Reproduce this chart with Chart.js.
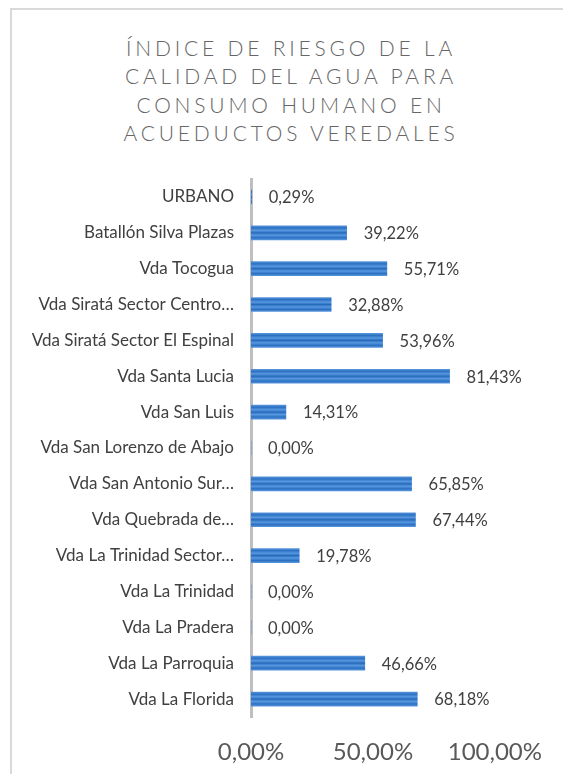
<!DOCTYPE html>
<html>
<head>
<meta charset="utf-8">
<script src="https://cdn.jsdelivr.net/npm/chart.js@4.4.1/dist/chart.umd.min.js"></script>
<style>
  html, body { margin: 0; padding: 0; background: #fff; }
  body { width: 563px; height: 774px; position: relative; overflow: hidden; }
  #frame {
    position: absolute; left: 10px; top: 8px; width: 560px; height: 800px;
    border-left: 2px solid #d9d9d9; border-top: 2px solid #d9d9d9;
  }
  #title {
    position: absolute; left: 12px; top: 34px; width: 558px;
    text-align: center; font-family: Lato, sans-serif; font-weight: 300; font-size: 21px;
    line-height: 28.4px; letter-spacing: 3.8px; color: #666666;
  }
  #wrap { position: absolute; left: 0; top: 0; width: 563px; height: 774px; }
</style>
</head>
<body>
<div id="frame"></div>
<div id="title">ÍNDICE DE RIESGO DE LA<br>CALIDAD DEL AGUA PARA<br>CONSUMO HUMANO EN<br>ACUEDUCTOS VEREDALES</div>
<div id="wrap"><canvas id="riesgoChart"></canvas></div>
<script>
// categorías (de arriba hacia abajo)
const veredas = [
    'URBANO',
    'Batallón Silva Plazas',
    'Vda Tocogua',
    'Vda Siratá Sector Centro…',
    'Vda Siratá Sector El Espinal',
    'Vda Santa Lucia',
    'Vda San Luis',
    'Vda San Lorenzo de Abajo',
    'Vda San Antonio Sur…',
    'Vda Quebrada de…',
    'Vda La Trinidad Sector…',
    'Vda La Trinidad',
    'Vda La Pradera',
    'Vda La Parroquia',
    'Vda La Florida'
];
// IRCA en %
const irca = [0.29, 39.22, 55.71, 32.88, 53.96, 81.43, 14.31, 0.00, 65.85, 67.44, 19.78, 0.00, 0.00, 46.66, 68.18];
const ejeTicks = [0, 50, 100];

const fmt = (v) => v.toFixed(2).replace('.', ',') + '%';

const canvas = document.getElementById('riesgoChart');
canvas.width = 563;
canvas.height = 774;
const ctx = canvas.getContext('2d');

// rayas horizontales en cada barra + etiquetas de valor
const barras = {
    id: 'barras',
    beforeDatasetsDraw(chart) {
        const c = chart.ctx;
        chart.getDatasetMeta(0).data.forEach((bar) => {
            const h = bar.height / 2;
            const g = c.createLinearGradient(0, bar.y - h, 0, bar.y + h);
            g.addColorStop(0, '#5594dc');
            g.addColorStop(0.15, '#2c70c2');
            g.addColorStop(0.33, '#5798e0');
            g.addColorStop(0.5, '#266abb');
            g.addColorStop(0.67, '#5798e0');
            g.addColorStop(0.85, '#2c70c2');
            g.addColorStop(1, '#5594dc');
            bar.options.backgroundColor = g;
        });
    },
    afterDatasetsDraw(chart) {
        const c = chart.ctx;
        const meta = chart.getDatasetMeta(0);
        c.save();
        c.font = '16.5px Lato, sans-serif';
        c.fillStyle = '#404040';
        c.textAlign = 'left';
        c.textBaseline = 'middle';
        meta.data.forEach((bar, i) => {
            c.fillText(fmt(irca[i]), bar.x + 17, bar.y + 1);
        });
        c.restore();
    }
};

const chart = new Chart(ctx, {
    type: 'bar',
    data: {
        labels: veredas,
        datasets: [{
            data: irca,
            backgroundColor: (c) => '#2e75c8', // scriptable -> opciones por barra
            borderWidth: 0,
            barThickness: 14
        }]
    },
    options: {
        indexAxis: 'y',
        responsive: false,
        animation: false,
        layout: { padding: { top: 179, right: 63, bottom: 0, left: 0 } },
        plugins: {
            legend: { display: false },
            tooltip: { enabled: false }
        },
        scales: {
            x: {
                min: 0,
                max: 100,
                afterBuildTicks: (scale) => { scale.ticks = ejeTicks.map(v => ({ value: v })); },
                grid: { display: false, drawTicks: false },
                border: { display: false },
                ticks: {
                    color: '#595959',
                    font: { family: 'Lato, sans-serif', size: 24 },
                    padding: 21,
                    callback: (v) => fmt(v)
                },
                afterFit: (scale) => { scale.height = 57; }
            },
            y: {
                grid: { display: false, drawTicks: false },
                border: { display: true, color: '#bfbfbf', width: 3 },
                ticks: {
                    color: '#404040',
                    font: { family: 'Lato, sans-serif', size: 17 },
                    padding: 17,
                    autoSkip: false
                },
                afterFit: (scale) => { scale.width = 251; }
            }
        }
    },
    plugins: [barras]
});
</script>
</body>
</html>
